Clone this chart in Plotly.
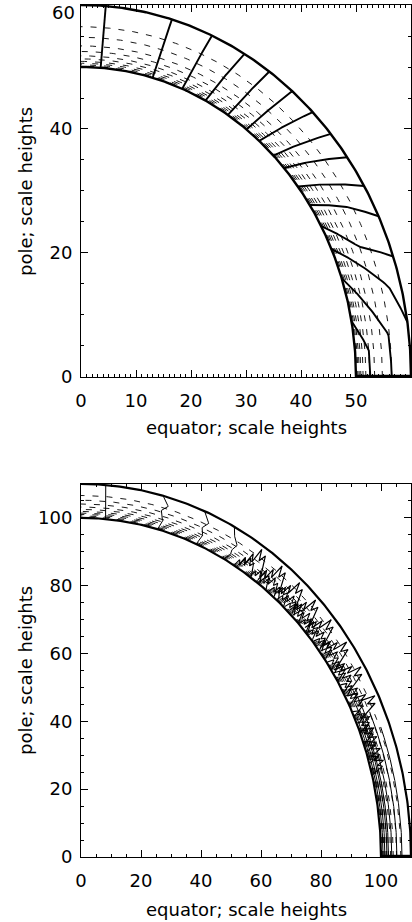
import numpy as np
import plotly.graph_objects as go

# ---------------- data ----------------
# top panel (atmosphere 50..60 scale heights)
top_r_in, top_r_out = 50.0, 60.0
top_dash_r = [50.15, 50.35, 50.6, 50.9, 51.3, 51.8, 52.5, 53.4, 54.8, 56.5]
top_solid_r = [
    [50, 60], [50, 60], [50, 60], [50, 60], [50, 60],
    [50, 60], [50, 60], [50, 60], [50, 60], [50, 60],
    [50, 55.3, 60], [50, 54.7, 60], [50, 57.8, 60],
    [50, 56.3, 56.5], [50, 52.5, 52.6],
]
top_solid_th = [
    [85.9, 85.7], [74.9, 74.0], [68.4, 66.6], [63.1, 60.3], [57.7, 55.2],
    [53.0, 50.2], [49.6, 45.4], [45.6, 40.8], [42.4, 36.2], [37.9, 30.9],
    [33.7, 29.8, 25.6], [29.1, 22.6, 18.9], [24.4, 14.6, 8.5],
    [18.6, 7.0, 0.0], [10.4, 4.8, 0.0],
]
top_yticks = [0, 20, 40]
top_ytop_label = "60"

# bottom panel (atmosphere 100..110 scale heights)
bot_r_in, bot_r_out = 100.0, 110.0
bot_dash_r = [100.3, 100.6, 101.0, 101.4, 101.9, 102.5, 103.2, 104.1, 105.2, 106.6]
bot_radial_r = [[100, 105, 110], [100, 102.5, 104, 105.5, 107.4, 110],
                [100, 103, 105, 107.2, 110], [100, 102, 103.5, 105.5, 107, 110]]
bot_radial_th = [[85.3, 85.5, 85.7], [75.2, 74.6, 75.0, 75.4, 74.3, 75.6],
                 [67.4, 66.8, 67.5, 66.6, 68.0], [61.5, 60.8, 61.0, 60.4, 61.4, 62.3]]
# zig-zag contours: shape (radius, angle offset) and the angle where each sits
zig_r = [100.8, 104.0, 102.4, 106.3, 104.0, 108.9, 105.6, 108.0, 104.6, 102.2, 100.6]
zig_dth = [2.6, 2.2, 1.7, 1.3, 0.8, 0.4, -0.2, -0.7, -1.3, -1.9, -2.5]
zig_th0 = [56.0, 51.6, 47.6, 43.7, 39.6, 35.2, 30.6, 25.5]
zig2_r = [100.3, 102.4, 101.2, 103.6, 101.8, 104.8, 102.6, 104.0, 101.4, 100.3]
zig2_dth = [1.8, 1.4, 1.0, 0.6, 0.2, -0.2, -0.7, -1.1, -1.6, -2.0]
zig2_th0 = [57.5, 54.0, 52.0, 49.6, 47.5, 45.6, 43.5, 41.7, 39.5, 37.6, 35.5,
            33.2, 31.0, 28.6, 26.5, 23.5, 21.5, 20.0, 18.0, 16.0]
# near-equator solid arcs
bot_arc_r = [100.7, 101.3, 102.0, 102.5, 103.6, 105.3, 107.0]
bot_arc_th = [24.0, 22.0, 26.0, 25.0, 27.0, 24.0, 21.0]

# ---------------- helpers ----------------
def polar_path(rs, ths, n=40):
    rs = np.asarray(rs, float)
    ths = np.asarray(ths, float)
    rr, tt = [], []
    for i in range(len(rs) - 1):
        s = np.linspace(0, 1, n, endpoint=(i == len(rs) - 2))
        rr.append(rs[i] + (rs[i + 1] - rs[i]) * s)
        tt.append(ths[i] + (ths[i + 1] - ths[i]) * s)
    rr = np.concatenate(rr)
    tt = np.radians(np.clip(np.concatenate(tt), 0, 90))
    return rr * np.cos(tt), rr * np.sin(tt)


def arc(r, th_end=90.0, th_start=0.0):
    return polar_path([r, r], [th_start, th_end], n=240)


fig = go.Figure()


def add(x, y, xa, ya, width=1.0, dash="solid"):
    fig.add_trace(go.Scatter(x=x, y=y, mode="lines", xaxis=xa, yaxis=ya,
                             line=dict(color="black", width=width, dash=dash),
                             hoverinfo="skip", showlegend=False))


DASH = "6px,8px"

# ----- top panel -----
for r in top_dash_r:
    x, y = arc(r)
    add(x, y, "x", "y", 0.9, DASH)
for rs, ths in zip(top_solid_r, top_solid_th):
    x, y = polar_path(rs, ths)
    add(x, y, "x", "y", 1.9)
for r in (top_r_in, top_r_out):
    x, y = arc(r)
    add(x, y, "x", "y", 2.4)
add([top_r_in, top_r_out], [0.15, 0.15], "x", "y", 2.6)

# ----- bottom panel -----
for r in bot_dash_r:
    x, y = arc(r)
    add(x, y, "x2", "y2", 0.9, DASH)
for rs, ths in zip(bot_radial_r, bot_radial_th):
    x, y = polar_path(rs, ths, n=12)
    add(x, y, "x2", "y2", 1.0)
for t0 in zig_th0:
    x, y = polar_path(zig_r, [t0 + d for d in zig_dth], n=12)
    add(x, y, "x2", "y2", 1.2)
for t0 in zig2_th0:
    x, y = polar_path(zig2_r, [t0 + d for d in zig2_dth], n=12)
    add(x, y, "x2", "y2", 1.1)
for r, te in zip(bot_arc_r, bot_arc_th):
    x, y = arc(r, te)
    add(x, y, "x2", "y2", 1.0)
for r in (bot_r_in, bot_r_out):
    x, y = arc(r)
    add(x, y, "x2", "y2", 2.2)
add([bot_r_in, bot_r_out], [0.3, 0.3], "x2", "y2", 2.4)

# ---------------- axes ----------------
FONT = "DejaVu Sans"


def axis(rng, dtick, minor, domain=None, anchor=None, standoff=4, tickvals=None):
    d = dict(range=rng, dtick=dtick, tick0=0, showline=True, linecolor="black",
             linewidth=1, mirror="ticks", ticks="inside", ticklen=7, tickwidth=1,
             tickcolor="black", showgrid=False, zeroline=False,
             ticklabelstandoff=standoff,
             tickfont=dict(family=FONT, size=18, color="black"),
             minor=dict(dtick=minor, tick0=0, ticks="inside", ticklen=3,
                        tickcolor="black", showgrid=False))
    if tickvals is not None:
        d["tickmode"] = "array"
        d["tickvals"] = tickvals
    if domain is not None:
        d["domain"] = domain
    if anchor is not None:
        d["anchor"] = anchor
    return d


fig.update_layout(
    width=412, height=922,
    margin=dict(l=81, r=1, t=5, b=65),
    paper_bgcolor="white", plot_bgcolor="white",
    showlegend=False,
    xaxis=axis([0, 60], 10, 1, anchor="y", standoff=7),
    yaxis=axis([0, 60], 20, 5, domain=[0.5634, 1.0], anchor="x", standoff=4,
               tickvals=top_yticks + [60]),
    xaxis2=axis([0, 110], 20, 5, anchor="y2", standoff=7),
    yaxis2=axis([0, 110], 20, 5, domain=[0.0, 0.4378], anchor="x2", standoff=4),
)
# top-most label of the upper panel sits just inside the frame, as in the original
fig.update_yaxes(ticktext=[str(v) for v in top_yticks] + [""], selector=dict(anchor="x"))
fig.add_annotation(text=top_ytop_label, x=0, y=60, xref="x", yref="y",
                   xanchor="right", yanchor="middle", xshift=-4, yshift=-7,
                   showarrow=False, font=dict(family=FONT, size=18, color="black"))

TF = dict(family=FONT, size=18, color="black")
fig.add_annotation(text="equator; scale heights", x=0.5, y=(857 - 427) / 852, xref="paper",
                   yref="paper", xanchor="center", yanchor="middle", showarrow=False, font=TF)
fig.add_annotation(text="equator; scale heights", x=0.5, y=(857 - 909) / 852, xref="paper",
                   yref="paper", xanchor="center", yanchor="middle", showarrow=False, font=TF)
fig.add_annotation(text="pole; scale heights", x=-0.1667, y=0.7817, xref="paper", yref="paper",
                   xanchor="center", yanchor="middle", textangle=-90, showarrow=False, font=TF)
fig.add_annotation(text="pole; scale heights", x=-0.1667, y=0.2195, xref="paper", yref="paper",
                   xanchor="center", yanchor="middle", textangle=-90, showarrow=False, font=TF)

fig.write_html("out.html")
